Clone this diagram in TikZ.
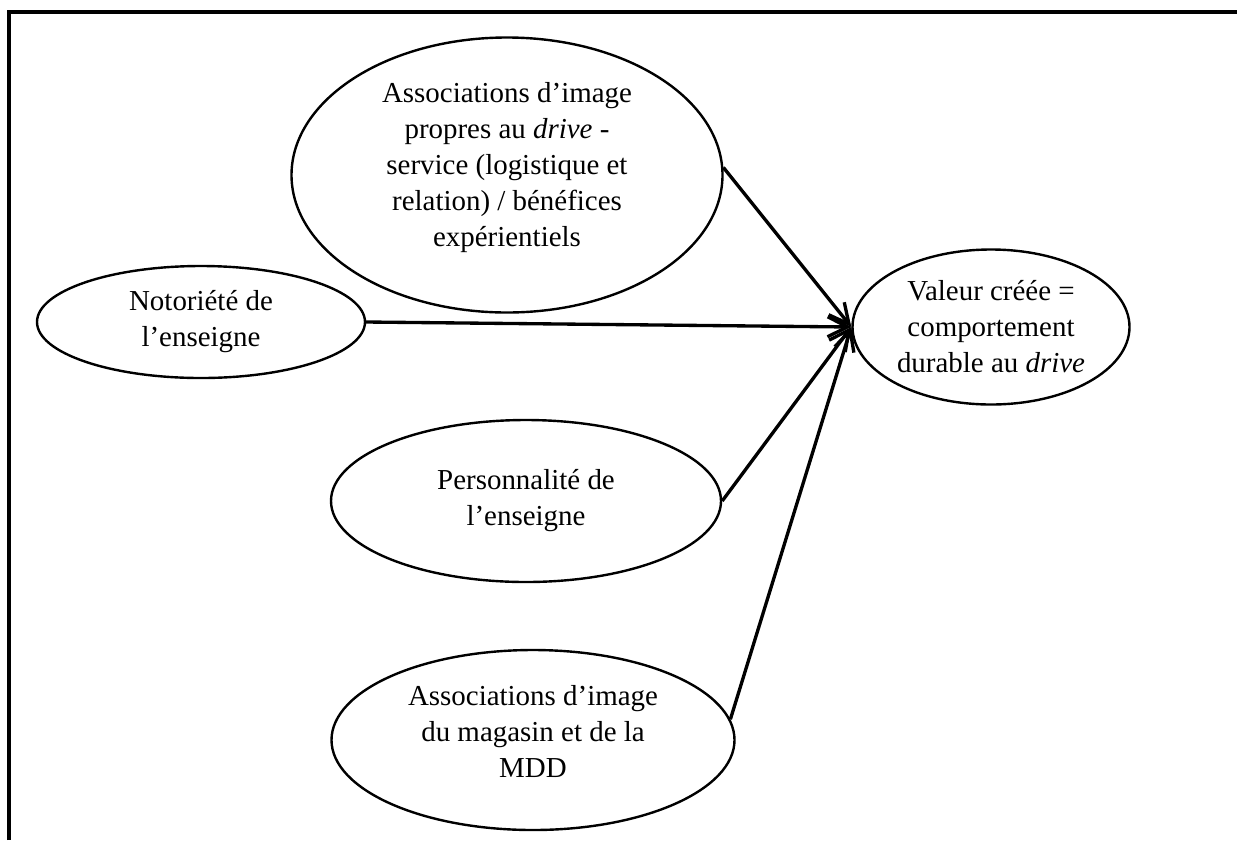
\documentclass[tikz,border=0pt]{standalone}
\usepackage{fontspec}
\setmainfont{Liberation Serif}
\usetikzlibrary{shapes.geometric,arrows.meta}
\newcommand{\upby}[2]{\raisebox{#1}[\height][\depth]{\begin{tabular}{@{}c@{}}#2\end{tabular}}}
\begin{document}
\begin{tikzpicture}[x=0.75pt,y=-0.75pt,
  oval/.style={ellipse,draw,line width=1.8pt,inner sep=0pt,align=center,
    font=\fontsize{21.7}{27}\selectfont},
  link/.style={line width=2.5pt,-{Straight Barb[length=15pt,width=15pt]}}]
\useasboundingbox (0,0) rectangle (1237,840);
\draw[line width=2.6pt] (9,840) -- (9,12) -- (1237,12);
\node[oval,minimum width=431*0.75pt,minimum height=275*0.75pt] (img) at (507,175)
  {\upby{6pt}{Associations d’image\\propres au \textit{drive} -\\service (logistique et\\relation) / bénéfices\\expérientiels}};
\node[oval,minimum width=328*0.75pt,minimum height=112*0.75pt] (not) at (201,322)
  {Notoriété de\\l’enseigne};
\node[oval,minimum width=277*0.75pt,minimum height=155*0.75pt] (val) at (991,327)
  {Valeur créée =\\comportement\\durable au \textit{drive}};
\node[oval,minimum width=390*0.75pt,minimum height=162*0.75pt] (per) at (526,501)
  {Personnalité de\\l’enseigne};
\node[oval,minimum width=403*0.75pt,minimum height=180*0.75pt] (mag) at (533,740)
  {\upby{4.5pt}{Associations d’image\\du magasin et de la\\MDD}};
\draw[link] (img.2) -- (val.west);
\draw[link] (not.east) -- (val.west);
\draw[link] (per.east) -- (val.west);
\draw[link] (mag.6) -- (val.west);
\end{tikzpicture}
\end{document}
